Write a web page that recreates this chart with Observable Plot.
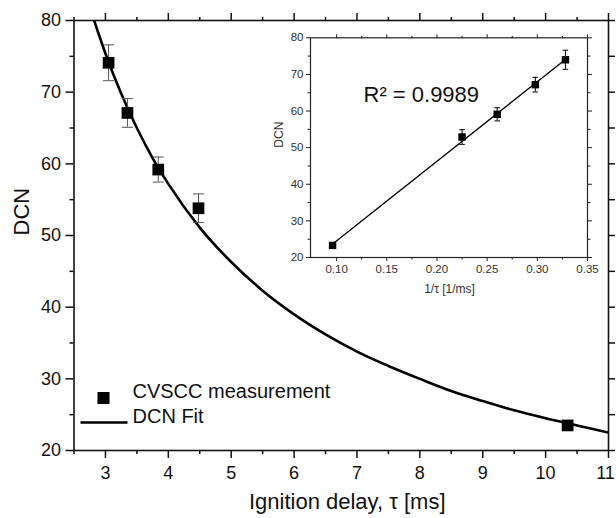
<!DOCTYPE html>
<html>
<head>
<meta charset="utf-8">
<script src="https://cdn.jsdelivr.net/npm/d3@7"></script>
<script src="https://cdn.jsdelivr.net/npm/@observablehq/plot@0.6"></script>
<style>
  body { margin: 0; background: #fff; }
  #wrap { position: relative; width: 616px; height: 518px; overflow: hidden; }
  #main { position: absolute; left: 0; top: 0; }
  #inset { position: absolute; left: 260px; top: 25px; }
</style>
</head>
<body>
<div id="wrap"><div id="main"></div><div id="inset"></div></div>
<script>
// ---------- Main chart data ----------
const tau = [3.05, 3.35, 3.84, 4.48, 10.35];          // ignition delay [ms]
const dcn = [74.1, 67.1, 59.2, 53.8, 23.5];           // DCN
const dcnErr = [2.5, 2.0, 1.75, 2.0, 0.6];            // error bar half-length
const fitTau = [2.82, 3.0, 3.25, 3.5, 3.75, 4.0, 4.5, 5.0, 5.5, 6.0, 6.5, 7.0, 7.5, 8.0, 8.5, 9.0, 9.5, 10.0, 10.5, 11.0];
const fitDcn = [80.0, 75.4, 69.8, 65.0, 60.8, 57.2, 51.1, 46.3, 42.3, 39.0, 36.2, 33.8, 31.8, 30.0, 28.3, 26.9, 25.6, 24.5, 23.5, 22.5];
const xTicks = [3, 4, 5, 6, 7, 8, 9, 10, 11];
const xMinor = [2.5, 3.5, 4.5, 5.5, 6.5, 7.5, 8.5, 9.5, 10.5];
const yTicks = [20, 30, 40, 50, 60, 70, 80];
const yMinor = [25, 35, 45, 55, 65, 75];
const xLabel = "Ignition delay, \u03C4 [ms]";
const yLabel = "DCN";
const legendItems = ["CVSCC measurement", "DCN Fit"];

// ---------- Inset data ----------
const invTau = [0.096, 0.225, 0.260, 0.298, 0.328];   // 1/tau [1/ms]
const insetDcn = [23.3, 52.9, 59.1, 67.2, 74.0];
const insetErr = [0.6, 2.0, 1.8, 2.0, 2.6];
const insetFitX = [0.097, 0.328];
const insetFitY = [23.9, 74.1];
const insetXTicks = [0.10, 0.15, 0.20, 0.25, 0.30, 0.35];
const insetXMinor = [0.125, 0.175, 0.225, 0.275, 0.325];
const insetYTicks = [20, 30, 40, 50, 60, 70, 80];
const insetYMinor = [25, 35, 45, 55, 65, 75];
const insetXLabel = "1/\u03C4 [1/ms]";
const insetYLabel = "DCN";
const r2Label = "R\u00B2 = 0.9989";

const FONT = "'Liberation Sans', Arial, Helvetica, sans-serif";
const cap = w => ({draw(ctx) { ctx.moveTo(-w / 2, 0); ctx.lineTo(w / 2, 0); }});
const hline = w => ({draw(ctx) { ctx.moveTo(-w / 2, 0); ctx.lineTo(w / 2, 0); }});

const pts = tau.map((t, i) => ({t, v: dcn[i], e: dcnErr[i]}));
const fit = fitTau.map((t, i) => ({t, v: fitDcn[i]}));
const xLast = xTicks[xTicks.length - 1];

const main = Plot.plot({
  width: 616, height: 518,
  marginLeft: 73.5, marginRight: 8, marginTop: 20, marginBottom: 68,
  style: {fontFamily: FONT, background: "transparent", color: "#111", overflow: "visible"},
  x: {domain: [2.5, 11]},
  y: {domain: [20, 80]},
  marks: [
    // axes (bottom/left with labels, top/right mirrored ticks)
    Plot.axisX(xTicks, {anchor: "bottom", tickSize: 8, fill: "none", strokeWidth: 1.5, label: null}),
    Plot.axisX(xTicks.filter(d => d !== xLast), {anchor: "bottom", tickSize: 0, tickPadding: 16, fontSize: 18, label: null}),
    Plot.axisX([xLast], {anchor: "bottom", tickSize: 0, tickPadding: 16, dx: -3, fontSize: 18, label: null}),
    Plot.axisX(xMinor, {anchor: "bottom", tickSize: 4, fill: "none", strokeWidth: 1.5, label: null}),
    Plot.axisX(xTicks, {anchor: "top", tickSize: 8, fill: "none", strokeWidth: 1.5, label: null}),
    Plot.axisX(xMinor, {anchor: "top", tickSize: 4, fill: "none", strokeWidth: 1.5, label: null}),
    Plot.axisY(yTicks, {anchor: "left", tickSize: 8, tickPadding: 5, fontSize: 18, strokeWidth: 1.5, label: null}),
    Plot.axisY(yMinor, {anchor: "left", tickSize: 4, fill: "none", strokeWidth: 1.5, label: null}),
    Plot.axisY(yTicks, {anchor: "right", tickSize: 6, fill: "none", strokeWidth: 1.5, label: null}),
    Plot.axisY(yMinor, {anchor: "right", tickSize: 6, fill: "none", strokeWidth: 1.5, label: null}),
    Plot.frame({strokeWidth: 1.6}),
    // axis titles
    Plot.text([xLabel], {frameAnchor: "bottom", dx: 6, dy: 58, fontSize: 22, fill: "#111"}),
    Plot.text([yLabel], {frameAnchor: "left", dx: -52, rotate: -90, fontSize: 22, fill: "#111"}),
    // fit curve
    Plot.line(fit, {x: "t", y: "v", curve: "monotone-x", stroke: "black", strokeWidth: 2.6, clip: true}),
    // error bars
    Plot.ruleX(pts, {x: "t", y1: d => d.v - d.e, y2: d => d.v + d.e, stroke: "#555", strokeWidth: 1}),
    Plot.dot(pts, {x: "t", y: d => d.v + d.e, symbol: cap(11), stroke: "#555", strokeWidth: 1}),
    Plot.dot(pts, {x: "t", y: d => d.v - d.e, symbol: cap(11), stroke: "#555", strokeWidth: 1}),
    // measurements
    Plot.dot(pts, {x: "t", y: "v", symbol: "square", r: 6.6, fill: "black", stroke: "none"}),
    // legend
    Plot.dot([legendItems[0]], {frameAnchor: "bottom-left", dx: 29.5, dy: -52.5, symbol: "square", r: 6.8, fill: "black", stroke: "none"}),
    Plot.text([legendItems[0]], {frameAnchor: "bottom-left", dx: 58.5, dy: -52.5, textAnchor: "start", fontSize: 20, fill: "#111"}),
    Plot.dot([legendItems[1]], {frameAnchor: "bottom-left", dx: 30, dy: -28, symbol: hline(47), stroke: "black", strokeWidth: 2.6}),
    Plot.text([legendItems[1]], {frameAnchor: "bottom-left", dx: 58.5, dy: -28, textAnchor: "start", fontSize: 20, fill: "#111"})
  ]
});
document.getElementById("main").appendChild(main);

const ipts = invTau.map((x, i) => ({x, v: insetDcn[i], e: insetErr[i]}));
const ifit = insetFitX.map((x, i) => ({x, v: insetFitY[i]}));

const inset = Plot.plot({
  width: 340, height: 285,
  marginLeft: 50, marginRight: 13, marginTop: 12.3, marginBottom: 53,
  style: {fontFamily: FONT, background: "transparent", color: "#222", overflow: "visible"},
  x: {domain: [0.074, 0.35]},
  y: {domain: [20, 80]},
  marks: [
    Plot.axisX(insetXTicks, {anchor: "bottom", tickSize: 4, tickPadding: 3, fontSize: 11.5, tickFormat: d3.format(".2f"), fill: "#333", label: null}),
    Plot.axisX(insetXMinor, {anchor: "bottom", tickSize: 2.5, fill: "none", label: null}),
    Plot.axisX(insetXTicks, {anchor: "top", tickSize: 4, fill: "none", label: null}),
    Plot.axisX(insetXMinor, {anchor: "top", tickSize: 2.5, fill: "none", label: null}),
    Plot.axisY(insetYTicks, {anchor: "left", tickSize: 4, tickPadding: 3, fontSize: 11.5, fill: "#333", label: null}),
    Plot.axisY(insetYMinor, {anchor: "left", tickSize: 2.5, fill: "none", label: null}),
    Plot.axisY(insetYTicks, {anchor: "right", tickSize: 4, fill: "none", label: null}),
    Plot.axisY(insetYMinor, {anchor: "right", tickSize: 2.5, fill: "none", label: null}),
    Plot.frame({strokeWidth: 1.2}),
    Plot.text([insetXLabel], {frameAnchor: "bottom", dx: 0.5, dy: 35.5, fontSize: 12, fill: "#333"}),
    Plot.text([insetYLabel], {frameAnchor: "left", dx: -31.5, rotate: -90, fontSize: 12, fill: "#333"}),
    Plot.text([r2Label], {frameAnchor: "top-left", dx: 53, dy: 64.4, textAnchor: "start", lineAnchor: "bottom", fontSize: 22, fill: "#111"}),
    Plot.line(ifit, {x: "x", y: "v", stroke: "black", strokeWidth: 1.3}),
    Plot.ruleX(ipts, {x: "x", y1: d => d.v - d.e, y2: d => d.v + d.e, stroke: "black", strokeWidth: 1}),
    Plot.dot(ipts, {x: "x", y: d => d.v + d.e, symbol: cap(5.5), stroke: "black", strokeWidth: 1}),
    Plot.dot(ipts, {x: "x", y: d => d.v - d.e, symbol: cap(5.5), stroke: "black", strokeWidth: 1}),
    Plot.dot(ipts, {x: "x", y: "v", symbol: "square", r: 4.2, fill: "black", stroke: "none"})
  ]
});
document.getElementById("inset").appendChild(inset);
</script>
</body>
</html>
